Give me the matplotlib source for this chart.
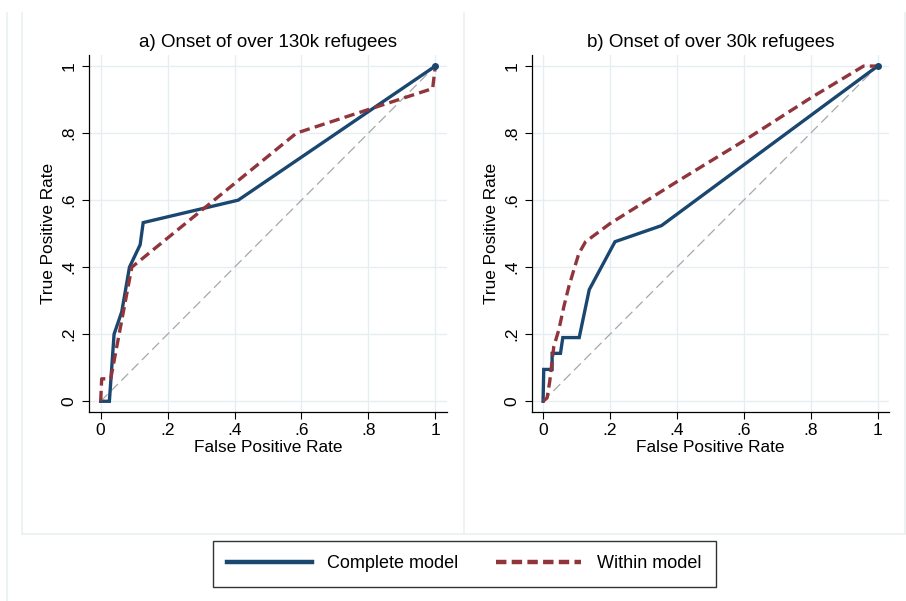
import matplotlib
matplotlib.use("Agg")
import matplotlib.pyplot as plt
from matplotlib.lines import Line2D

plt.rcParams['font.family'] = ['Liberation Sans', 'DejaVu Sans']
plt.rcParams['lines.scale_dashes'] = False

# ---- data ----
titles = ["a) Onset of over 130k refugees", "b) Onset of over 30k refugees"]
tick_vals = [0, 0.2, 0.4, 0.6, 0.8, 1]
tick_labels = ["0", ".2", ".4", ".6", ".8", "1"]
series_names = ["Complete model", "Within model"]

a_complete_fpr = [0, 0.026, 0.040, 0.063, 0.086, 0.118, 0.127, 0.411, 1.0]
a_complete_tpr = [0, 0.0, 0.200, 0.267, 0.400, 0.467, 0.533, 0.600, 1.0]
a_within_fpr = [0, 0.003, 0.030, 0.093, 0.585, 0.992, 1.0]
a_within_tpr = [0, 0.067, 0.067, 0.400, 0.800, 0.933, 1.0]

b_complete_fpr = [0, 0.002, 0.027, 0.027, 0.052, 0.059, 0.108, 0.138, 0.215, 0.354, 1.0]
b_complete_tpr = [0, 0.095, 0.095, 0.143, 0.143, 0.190, 0.190, 0.333, 0.476, 0.524, 1.0]
b_within_fpr = [0, 0.012, 0.020, 0.032, 0.047, 0.062, 0.077, 0.092, 0.107, 0.127, 0.2, 0.4, 0.6, 0.8, 0.958, 1.0]
b_within_tpr = [0, 0.010, 0.060, 0.163, 0.213, 0.282, 0.342, 0.392, 0.441, 0.476, 0.530, 0.655, 0.777, 0.905, 1.0, 1.0]

panels = [
    (a_complete_fpr, a_complete_tpr, a_within_fpr, a_within_tpr),
    (b_complete_fpr, b_complete_tpr, b_within_fpr, b_within_tpr),
]

BLUE = "#1a476f"
RED = "#90353b"
GRID = "#e6eef0"
FRAME = "#eaf0f1"

W, H = 906, 601
fig = plt.figure(figsize=(W / 100, H / 100), dpi=100)
fig.patch.set_facecolor("white")

def px_rect(l, t, r, b):
    return [l / W, 1 - b / H, (r - l) / W, (b - t) / H]

# faint region borders
for (x0, y0, x1, y1) in [(7, 13, 7, 601), (22, 13, 22, 534), (463.5, 13, 463.5, 534),
                         (905, 13, 905, 534), (22, 534, 905, 534)]:
    fig.add_artist(Line2D([x0 / W, x1 / W], [1 - y0 / H, 1 - y1 / H],
                          color=FRAME, lw=1.2, transform=fig.transFigure))

axes_px = [(89.3, 55, 446.7, 412), (531.7, 55, 889, 412)]

for i, (cf, ct, wf, wt) in enumerate(panels):
    ax = fig.add_axes(px_rect(*axes_px[i]))
    ax.set_xlim(-0.034, 1.034)
    ax.set_ylim(-0.032, 1.033)
    for s in ["top", "right"]:
        ax.spines[s].set_visible(False)
    for s in ["left", "bottom"]:
        ax.spines[s].set_color("black")
        ax.spines[s].set_linewidth(0.9)
    ax.set_xticks(tick_vals)
    ax.set_yticks(tick_vals)
    ax.set_xticklabels(tick_labels, fontsize=12.5)
    ax.set_yticklabels(tick_labels, fontsize=12.5, rotation=90, va="center")
    ax.tick_params(axis="both", direction="out", length=5, width=0.8, color="black")
    ax.tick_params(axis="x", pad=3)
    ax.tick_params(axis="y", pad=4)
    ax.grid(True, color=GRID, lw=1.0)
    ax.set_axisbelow(True)

    ax.plot([0, 1], [0, 1], color="#a8a8a8", lw=0.9, dashes=(7, 3.5))
    ax.plot(cf, ct, color=BLUE, lw=2.4, solid_joinstyle="miter", zorder=3)
    ax.plot(wf, wt, color=RED, lw=2.4, dashes=(7.5, 3.8), zorder=4)
    ax.plot([1], [1], "o", color=BLUE, ms=4, zorder=5)

    ax.set_xlabel("False Positive Rate", fontsize=12.4, labelpad=1)
    ax.set_ylabel("True Positive Rate", fontsize=12.4, labelpad=4)
    ax.set_title(titles[i], fontsize=13.5, pad=6)

handles = [Line2D([], [], color=BLUE, lw=3.2),
           Line2D([], [], color=RED, lw=3.2, dashes=(7.5, 3.8))]
leg = fig.legend(handles, series_names, loc="center",
                 bbox_to_anchor=((211.5 + 716.7) / 2 / W, 1 - 564 / H),
                 ncol=2, fontsize=13, frameon=True, fancybox=False,
                 handlelength=4.7, handletextpad=0.85, columnspacing=2.1,
                 borderpad=0.8)
leg.get_frame().set_edgecolor("black")
leg.get_frame().set_linewidth(1.0)

fig.savefig("out.png", dpi=100)
